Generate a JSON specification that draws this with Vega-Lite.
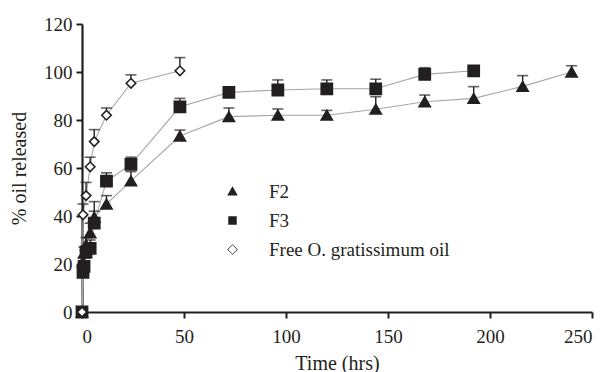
{
  "$schema": "https://vega.github.io/schema/vega-lite/v6.json",
  "width": 510,
  "height": 288,
  "autosize": {"type": "none"},
  "padding": {"left": 82, "top": 24, "right": 15, "bottom": 60},
  "background": "white",
  "config": {
    "view": {"stroke": null},
    "font": "Liberation Serif",
    "axis": {
      "labelFont": "Liberation Serif",
      "titleFont": "Liberation Serif",
      "labelFontSize": 19,
      "titleFontSize": 20,
      "titleFontWeight": "normal",
      "labelColor": "#231f20",
      "titleColor": "#231f20",
      "domainColor": "#231f20",
      "tickColor": "#231f20",
      "domainWidth": 2.2,
      "tickWidth": 2,
      "tickSize": 6,
      "grid": false
    },
    "legend": {
      "labelFont": "Liberation Serif",
      "labelFontSize": 19,
      "labelColor": "#231f20",
      "labelLimit": 400,
      "padding": 0,
      "rowPadding": 9,
      "symbolSize": 200,
      "labelOffset": 27,
      "symbolStrokeColor": "#231f20",
      "symbolFillColor": "#231f20",
      "symbolStrokeWidth": 1.3,
      "symbolOpacity": 1
    }
  },
  "data": {
    "values": [
      {"series": "Free O. gratissimum oil", "time": 0, "value": 0},
      {"series": "Free O. gratissimum oil", "time": 0.5, "value": 40.5, "upper": 45},
      {"series": "Free O. gratissimum oil", "time": 2, "value": 48.5, "upper": 54},
      {"series": "Free O. gratissimum oil", "time": 4, "value": 60.5, "upper": 64.5},
      {"series": "Free O. gratissimum oil", "time": 6, "value": 71, "upper": 76},
      {"series": "Free O. gratissimum oil", "time": 12, "value": 82, "upper": 85},
      {"series": "Free O. gratissimum oil", "time": 24, "value": 95.3, "upper": 98.8},
      {"series": "Free O. gratissimum oil", "time": 48, "value": 100.5, "upper": 106},
      {"series": "F3", "time": 0, "value": 0},
      {"series": "F3", "time": 0.5, "value": 16.5},
      {"series": "F3", "time": 1, "value": 19, "upper": 21},
      {"series": "F3", "time": 2, "value": 25, "upper": 27},
      {"series": "F3", "time": 4, "value": 26.5, "upper": 30},
      {"series": "F3", "time": 6, "value": 37, "upper": 42},
      {"series": "F3", "time": 12, "value": 54.5, "upper": 58},
      {"series": "F3", "time": 24, "value": 61.5, "upper": 64.5},
      {"series": "F3", "time": 48, "value": 85.5, "upper": 89},
      {"series": "F3", "time": 72, "value": 91.5, "upper": 93},
      {"series": "F3", "time": 96, "value": 92.5, "upper": 96.7},
      {"series": "F3", "time": 120, "value": 93, "upper": 96.7},
      {"series": "F3", "time": 144, "value": 93, "upper": 97},
      {"series": "F3", "time": 168, "value": 99, "upper": 101.8},
      {"series": "F3", "time": 192, "value": 100.5},
      {"series": "F2", "time": 0, "value": 0},
      {"series": "F2", "time": 0.5, "value": 21},
      {"series": "F2", "time": 1, "value": 24.5, "upper": 27},
      {"series": "F2", "time": 2, "value": 28, "upper": 31},
      {"series": "F2", "time": 4, "value": 33, "upper": 37},
      {"series": "F2", "time": 6, "value": 39.5, "upper": 46},
      {"series": "F2", "time": 12, "value": 45, "upper": 48.5},
      {"series": "F2", "time": 24, "value": 54.6, "upper": 58.5},
      {"series": "F2", "time": 48, "value": 73.3, "upper": 75.8},
      {"series": "F2", "time": 72, "value": 81.4, "upper": 85},
      {"series": "F2", "time": 96, "value": 82, "upper": 84.6},
      {"series": "F2", "time": 120, "value": 82, "upper": 84},
      {"series": "F2", "time": 144, "value": 84.5, "upper": 89.7},
      {"series": "F2", "time": 168, "value": 87.6, "upper": 90.4},
      {"series": "F2", "time": 192, "value": 89, "upper": 93.9},
      {"series": "F2", "time": 216, "value": 94, "upper": 98.5},
      {"series": "F2", "time": 240, "value": 100, "upper": 102.6}
    ]
  },
  "encoding": {
    "x": {
      "field": "time", "type": "quantitative",
      "scale": {"domain": [0, 250], "nice": false, "zero": false},
      "axis": {"values": [0, 50, 100, 150, 200, 250], "title": "Time (hrs)", "titlePadding": 7, "labelPadding": 9}
    }
  },
  "resolve": {"scale": {"shape": "independent"}},
  "layer": [
    {
      "mark": {"type": "line", "color": "#a7a7a7", "strokeWidth": 1.1},
      "encoding": {
        "y": {
          "field": "value", "type": "quantitative",
          "scale": {"domain": [0, 120], "nice": false},
          "axis": {"values": [0, 20, 40, 60, 80, 100, 120], "title": "% oil released", "titlePadding": 14, "labelPadding": 4}
        },
        "detail": {"field": "series"},
        "order": {"field": "time"}
      }
    },
    {
      "transform": [{"filter": "datum.upper != null"}],
      "mark": {"type": "rule", "color": "#231f20", "strokeWidth": 1.4},
      "encoding": {
        "y": {"field": "value", "type": "quantitative"},
        "y2": {"field": "upper"}
      }
    },
    {
      "transform": [{"filter": "datum.upper != null"}],
      "mark": {"type": "tick", "orient": "horizontal", "color": "#231f20", "thickness": 1.6, "size": 11},
      "encoding": {
        "y": {"field": "upper", "type": "quantitative"}
      }
    },
    {
      "mark": {"type": "point", "filled": false, "opacity": 1, "strokeWidth": 1.6, "stroke": "#231f20"},
      "encoding": {
        "y": {"field": "value", "type": "quantitative"},
        "shape": {
          "field": "series", "type": "nominal",
          "scale": {"domain": ["F2", "F3", "Free O. gratissimum oil"], "range": ["triangle-up", "square", "diamond"]},
          "legend": null
        },
        "fill": {
          "condition": {"test": "datum.series === 'Free O. gratissimum oil'", "value": "white"},
          "value": "#231f20"
        },
        "size": {
          "condition": {"test": "datum.series === 'Free O. gratissimum oil'", "value": 90},
          "value": 125
        },
        "order": {"field": "series", "sort": "ascending"}
      }
    },
    {
      "transform": [{"filter": "datum.time === 0"}],
      "mark": {"type": "point", "filled": true, "color": "#231f20", "opacity": 0},
      "encoding": {
        "y": {"field": "value", "type": "quantitative"},
        "shape": {
          "field": "series", "type": "nominal",
          "scale": {
            "domain": ["F2", "F3", "Free O. gratissimum oil"],
            "range": [
              "M-3.2,0H-1.1M-0.75,0.55L0,-0.75L0.75,0.55ZM1.1,0H3.2",
              "M-3.2,0H-1.1M-0.6,-0.6H0.6V0.6H-0.6ZM1.1,0H3.2",
              "M-3.2,0H-1.1M-0.75,0L0,-0.75L0.75,0L0,0.75ZM-0.62,0L0,0.62L0.62,0L0,-0.62ZM1.1,0H3.2"
            ]
          },
          "legend": {"title": null, "orient": "none", "legendX": 141, "legendY": 158}
        }
      }
    }
  ]
}
